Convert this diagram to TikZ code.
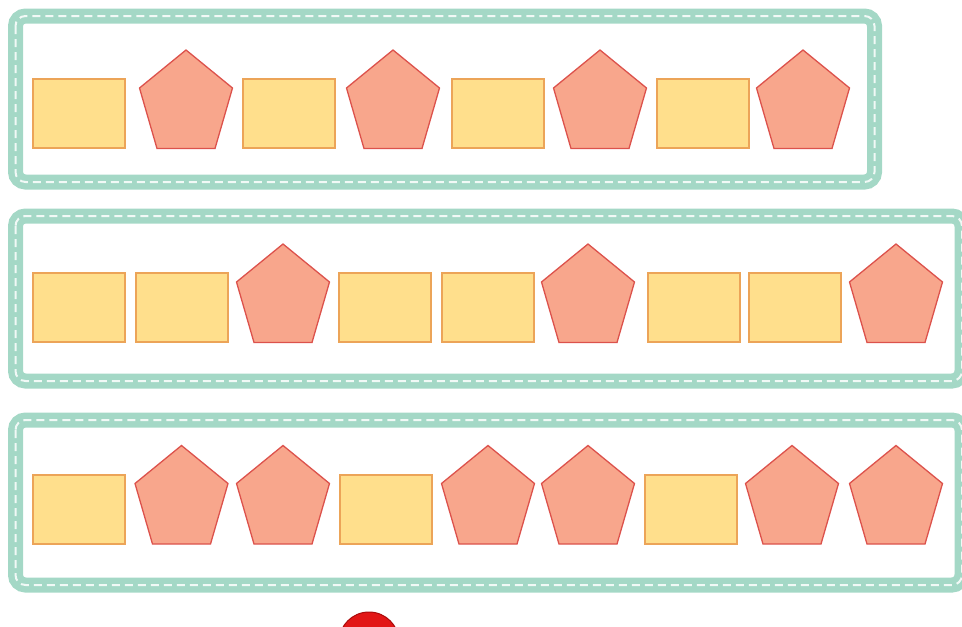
\documentclass[tikz,border=0pt]{standalone}
\definecolor{bandgreen}{RGB}{164,216,198}
\definecolor{rectfill}{RGB}{255,223,140}
\definecolor{rectline}{RGB}{236,164,88}
\definecolor{pentfill}{RGB}{248,166,140}
\definecolor{pentline}{RGB}{220,82,76}
\definecolor{ballfill}{RGB}{226,22,22}
\definecolor{ballline}{RGB}{170,10,10}
\tikzset{
  x=1pt, y=-1pt,
  band/.style={draw=bandgreen, line width=15pt, rounded corners=10pt},
  stitch/.style={draw=white, line width=2pt, dash pattern=on 8pt off 5pt, rounded corners=10pt, opacity=0.85},
  rectshape/.style={fill=rectfill, draw=rectline, line width=1.3pt},
  pentshape/.style={fill=pentfill, draw=pentline, line width=1.3pt, line join=miter},
  pics/sq/.style={code={\path[rectshape] (0,0) rectangle (92,69);}},
  pics/pe/.style={code={\path[pentshape] (0,0) -- (46.5,38) -- (29,98.5) -- (-29,98.5) -- (-46.5,38) -- cycle;}}
}
\begin{document}
\begin{tikzpicture}
\useasboundingbox (0,0) rectangle (962,627);
\clip (0,0) rectangle (962,627);
% frames
\path[band] (15.5,16) rectangle (874.5,182);
\path[stitch] (15.5,16) rectangle (874.5,182);
\path[band] (15.5,216) rectangle (962,381);
\path[stitch] (15.5,216) rectangle (962,381);
\path[band] (15.5,420) rectangle (962,585);
\path[stitch] (15.5,420) rectangle (962,585);
% row 1
\foreach \x in {33,243,452,657} \pic at (\x,79) {sq};
\foreach \x in {186,393,600,803} \pic at (\x,50) {pe};
% row 2
\foreach \x in {33,136,339,442,648,749} \pic at (\x,273) {sq};
\foreach \x in {283,588,896} \pic at (\x,244) {pe};
% row 3
\foreach \x in {33,340,645} \pic at (\x,475) {sq};
\foreach \x in {181.5,283,488,588,792,896} \pic at (\x,445.5) {pe};
% red ball
\node[circle, fill=ballfill, draw=ballline, line width=1pt, minimum size=60pt, inner sep=0pt] (ball) at (369,642) {};
\end{tikzpicture}
\end{document}
